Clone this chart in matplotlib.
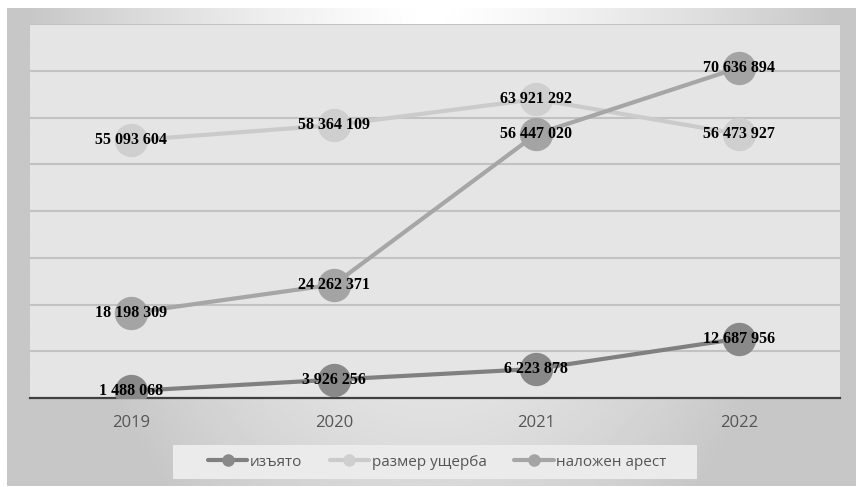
import numpy as np
import matplotlib
matplotlib.use("Agg")
import matplotlib.pyplot as plt
from matplotlib.patches import Rectangle

years = ["2019", "2020", "2021", "2022"]
izyato = [1488068, 3926256, 6223878, 12687956]
razmer = [55093604, 58364109, 63921292, 56473927]
arest = [18198309, 24262371, 56447020, 70636894]

series = [
    ("изъято", izyato, "#808080", "#898989"),
    ("размер ущерба", razmer, "#cbcbcb", "#cfcfcf"),
    ("наложен арест", arest, "#a6a6a6", "#a4a4a4"),
]

def fmt(v):
    return f"{v:,}".replace(",", " ")

W, H = 856, 487
fig = plt.figure(figsize=(W / 100, H / 100), dpi=100)
fig.patch.set_facecolor("white")

# background panel: white at top centre, greying towards the edges
bg = fig.add_axes([7 / W, 1 / H, (W - 7) / W, (H - 9) / H])
gx, gy = np.meshgrid(np.linspace(-1, 1, 400), np.linspace(0, 1, 240))
d = np.sqrt((gx * 1.05) ** 2 + (gy * 0.75) ** 2)
v = 1 - 0.22 * np.clip(d, 0, 1) ** 1.3
bg.imshow(v, cmap="gray", vmin=0, vmax=1, aspect="auto", origin="upper",
          extent=[0, 1, 0, 1], interpolation="bilinear")
bg.axis("off")

ax = fig.add_axes([30 / W, 1 - 398 / H, 810 / W, 374 / H])
ax.set_facecolor("#e5e5e5")
x = np.arange(len(years))

for name, vals, lc, mc in series:
    ax.plot(x, vals, color=lc, lw=3, marker="o", markersize=23,
            markerfacecolor=mc, markeredgecolor=mc, label=name,
            solid_capstyle="round", zorder=3)
    for xi, val in zip(x, vals):
        ax.text(xi, val, fmt(val), ha="center", va="center",
                fontsize=11.5, fontweight="bold", family="Liberation Serif",
                color="black", zorder=5)

ax.set_xlim(-0.5, len(years) - 0.5)
ax.set_ylim(0, 80000000)
ax.set_yticks(np.arange(0, 80000001, 10000000))
ax.set_yticklabels([])
ax.yaxis.grid(True, color="#c2c2c2", lw=1.5)
ax.set_axisbelow(True)
ax.tick_params(axis="y", length=0)
ax.set_xticks(x)
ax.set_xticklabels(years, family="Open Sans", fontsize=12, color="#555555")
ax.tick_params(axis="x", length=0, pad=12)
for s in ["top", "left", "right"]:
    ax.spines[s].set_visible(False)
ax.spines["bottom"].set_color("#404040")
ax.spines["bottom"].set_linewidth(1.6)

# legend box behind a frameless legend
fig.patches.append(Rectangle((173 / W, 1 - 479 / H), 524 / W, 34 / H,
                             transform=fig.transFigure, facecolor="#ebebeb",
                             edgecolor="none", zorder=1))
handles, labels = ax.get_legend_handles_labels()
leg = fig.legend(handles, labels, loc="center", ncol=3,
                 bbox_to_anchor=(437 / W, 1 - 462 / H), frameon=False,
                 handlelength=2.6, columnspacing=1.8, handletextpad=0.15,
                 prop={"family": "Open Sans", "size": 11})
leg.set_zorder(2)
for t in leg.get_texts():
    t.set_color("#555555")
for lh in leg.legend_handles:
    lh.set_markersize(8)

fig.savefig("out.png", dpi=100)
